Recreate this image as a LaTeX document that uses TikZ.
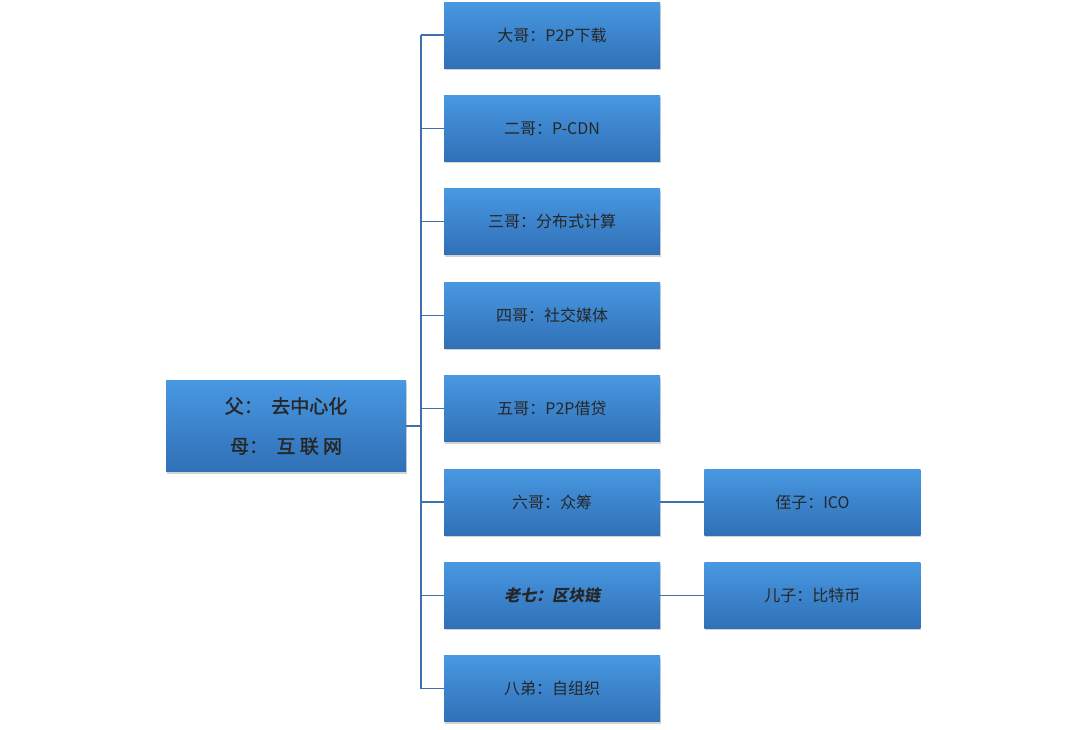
\documentclass[tikz,border=0pt]{standalone}
\usepackage{fontspec}
\newfontfamily\cjk{Noto Sans CJK SC}
\newfontfamily\cjkit[FakeSlant=0.2]{Noto Sans CJK SC}
\newfontfamily\cjkbf[FakeBold=1.5]{Noto Sans CJK SC}
\usetikzlibrary{positioning,shadows}
\definecolor{boxtop}{RGB}{72,152,226}
\definecolor{boxbot}{RGB}{48,112,182}
\definecolor{linkblue}{RGB}{62,112,172}
\tikzset{
  box/.style={rectangle,top color=boxtop,bottom color=boxbot,draw=none,
    minimum width=216pt,minimum height=66pt,font=\cjk\fontsize{16}{19}\selectfont,
    text=black!85,drop shadow={shadow xshift=1pt,shadow yshift=-2pt,opacity=0.35}},
  link/.style={draw=linkblue,line width=1.2pt}
}
\begin{document}
\begin{tikzpicture}[x=1pt,y=-1pt]
  \useasboundingbox (0,0) rectangle (1080,729);
  \node [box,minimum width=240pt,minimum height=91pt,align=center,
    font=\cjkbf\fontsize{19}{40}\selectfont] (root) at (286,426)
    {父：\ \ 去中心化\\母：\ \ 互\ 联\ 网};
  \coordinate (trunk) at (421,0);
  \node [box] (k1) at (552,35) {大哥：P2P下载};
  \node [box,below=27pt of k1] (k2) {二哥：P-CDN};
  \node [box,below=27pt of k2] (k3) {三哥：分布式计算};
  \node [box,below=27pt of k3] (k4) {四哥：社交媒体};
  \node [box,below=27pt of k4] (k5) {五哥：P2P借贷};
  \node [box,below=27pt of k5] (k6) {六哥：众筹};
  \node [box,below=27pt of k6,font=\cjkit\fontsize{16}{19}\selectfont\bfseries] (k7) {老七：区块链};
  \node [box,below=27pt of k7] (k8) {八弟：自组织};
  % next generation
  \node [box,right=44pt of k6] (nephew) {侄子：ICO};
  \node [box,right=44pt of k7] (son) {儿子：比特币};
  \draw [link] (root.east) -- (root.east -| trunk);
  \draw [link] (k1.west -| trunk) -- (k8.west -| trunk);
  \foreach \k in {k1,k2,k3,k4,k5,k6,k7,k8}
    \draw [link] (\k.west) -- (\k.west -| trunk);
  \draw [link] (k6) -- (nephew);
  \draw [link] (k7) -- (son);
\end{tikzpicture}
\end{document}
